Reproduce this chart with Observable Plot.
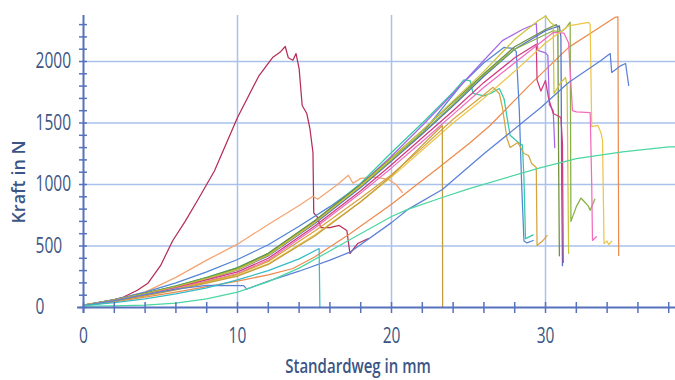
<!DOCTYPE html>
<html>
<head>
<meta charset="utf-8">
<script src="https://cdn.jsdelivr.net/npm/d3@7"></script>
<script src="https://cdn.jsdelivr.net/npm/@observablehq/plot@0.6"></script>
<style>
  html, body { margin: 0; padding: 0; background: #fff; }
  #wrap { position: relative; width: 675px; height: 380px; background: #fff; overflow: hidden; }
  #ylab { position: absolute; left: 18px; top: 182px; transform: translate(-50%, -50%) rotate(-90deg);
          font-family: 'Open Sans', sans-serif; font-weight: 600; font-size: 18px; color: #3b5584; white-space: nowrap; }
  #xlab { position: absolute; left: 358px; top: 356px; transform: translateX(-50%) scaleX(0.75);
          font-family: 'Open Sans', sans-serif; font-weight: 600; font-size: 20px; line-height: 20px; color: #3b5584; white-space: nowrap; }
</style>
</head>
<body>
<div id="wrap"></div>
<script>
// ---- axis ticks ----
const xTicksMinor = [0,2,4,6,8,10,12,14,16,18,20,22,24,26,28,30,32,34,36,38];
const xTickLabels = [0,10,20,30];
const yTicksMinor = [0,100,200,300,400,500,600,700,800,900,1000,1100,1200,1300,1400,1500,1600,1700,1800,1900,2000,2100,2200,2300];
const yTickLabels = [0,500,1000,1500,2000];

// ---- curves (Standardweg mm, Kraft N) ----
const crimsonX = [0,1,2,2.6,3.5,4.2,5,5.8,6.6,7.4,8.5,10,11.4,12.3,12.8,13.1,13.3,13.6,13.8,14.0,14.2,14.5,14.7,14.9,14.95,15.2,15.4,16.0,16.6,17.1,17.3,17.8,18.5];
const crimsonY = [15,40,65,85,140,200,340,545,700,870,1110,1545,1886,2035,2080,2122,2030,2010,2065,1943,1642,1577,1455,1260,770,732,650,650,667,626,439,520,561];

const peachX = [0,2,4,6,8,10,12,14,14.9,15.2,16.5,17.2,17.5,18,19,19.8,20.3,20.7];
const peachY = [20,60,125,245,385,515,675,830,905,880,1000,1075,1010,1050,1060,1040,1000,935];

const darkOrangeX = [0,2,4,6,8,10,12,13.6,15,17.3,20,23.2,25.1,26.4,28.9,31.5,33,34.5,34.7,34.75];
const darkOrangeY = [15,45,85,125,170,215,265,317,410,600,840,1150,1340,1480,1800,2115,2236,2358,2362,423];

const steelX = [0,2,4,6,8,10,12,14,16,18,20,22,24.6,26,27.3,27.9,28.1,28.3,28.45,28.6,28.8,29.2];
const steelY = [20,65,125,200,290,390,510,660,820,1000,1200,1420,1820,1990,2114,2106,2080,1600,1000,540,525,545];

const tealX = [0,2,4,6,8,10,12,15,18,20,22,24,24.7,25.1,25.3,26,26.5,27.0,27.3,27.7,28.2,28.5,28.6,28.7,29.2];
const tealY = [20,62,115,175,245,325,440,700,1010,1260,1500,1750,1850,1845,1740,1720,1745,1780,1700,1400,1345,1320,1050,560,590];

const purpleX = [0,2,4,6,8,10,12,15,18,20,22,24,26,27.2,28.5,29.4,29.5,30.0,30.15,30.25,30.5,30.6];
const purpleY = [20,62,115,172,240,318,435,695,1000,1230,1480,1740,2010,2170,2260,2309,2090,2070,2050,1650,1600,1300];

const darkOliveX = [0,2,4,6,8,10,12,15,18,20,22,24,26,28,30,30.7,30.8,30.85,30.9];
const darkOliveY = [20,62,116,174,244,322,440,705,1000,1215,1440,1670,1900,2120,2260,2300,2280,1200,420];

const darkBlueX = [0,2,4,6,8,10,12,15,18,20,22,24,26,28,30,30.9,31.0,31.05,31.1];
const darkBlueY = [18,58,110,165,230,305,420,680,975,1190,1410,1640,1880,2100,2250,2290,2200,1000,340];

const oliveGreenX = [0,2,4,6,8,10,12,15,18,20,22,24,25.8,28,30.5,31.0,31.3,31.6,31.65,32.0,32.3,32.6,32.8,32.9,33.2];
const oliveGreenY = [20,60,112,170,238,315,430,690,985,1200,1420,1650,1870,2100,2250,2240,2270,2320,700,820,890,850,820,790,880];

const oliveYellowX = [0,2,4,6,8,10,12,15,18,20,22,24,26,28,29.5,30.0,30.3,30.5,30.55,31.0,31.3,31.4,31.5];
const oliveYellowY = [20,60,110,165,232,308,425,690,990,1210,1440,1680,1920,2180,2330,2370,2320,2300,1740,1830,1870,1800,440];

const magentaX = [0,2,4,6,8,10,12,15,18,20,22,24,26,28,29.4,29.45,29.7,30.0,30.2,30.5,31.0,31.1,31.15];
const magentaY = [18,56,105,160,225,290,400,660,950,1160,1380,1600,1830,2030,2140,1850,1760,1845,1700,1577,1545,1333,366];

const pinkX = [0,2,4,6,8,10,12,15,18,20,22,24,26,28,30.5,31.2,31.5,31.75,32.0,32.9,33.0,33.05,33.3];
const pinkY = [18,55,102,155,215,275,385,645,930,1135,1350,1570,1790,1990,2236,2230,2150,1600,1590,1585,1000,545,575];

const yellowX = [0,2,4,6,8,10,12,15,18,20,22,24,25.8,28,30,31.5,32.8,32.9,33.0,33.4,33.6,33.7,33.8,34.0,34.1,34.3];
const yellowY = [18,54,100,150,205,260,355,590,860,1060,1280,1500,1680,1920,2150,2290,2318,2300,1470,1480,1420,1360,520,540,510,540];

const ochreX = [0,2,4,6,8,10,12,15,18,20,22,24,26,26.6,27.0,27.2,27.5,27.7,28.2,28.6,28.9,29.1,29.4,29.45,29.8,30.1];
const ochreY = [18,54,100,150,210,270,375,620,890,1080,1300,1530,1730,1790,1740,1626,1374,1301,1342,1252,1236,1171,1138,504,540,585];

const ochre2X = [0,2,4,6,8,10,12,15,18,20,22,23.3,23.32];
const ochre2Y = [18,52,95,143,198,255,350,580,860,1070,1320,1480,0];

const blueStepX = [0,2,4,6,8,10.4,10.6,12,14,16,17.3,20,21.1,23.3,26,29.7,31.5,33.6,34.2,34.3,34.9,35.2,35.4];
const blueStepY = [15,55,105,150,179,178,150,215,295,385,450,690,800,960,1250,1626,1830,2008,2065,1910,1967,1984,1805];

const tealCyanX = [0,2,4,6,8,10,12,14,15.3,15.35];
const tealCyanY = [15,40,70,110,160,225,300,395,480,0];

const mintX = [0,2,4,6,8,10,12,14,17,20,21.1,23.2,25,29.7,32,35,38,38.5];
const mintY = [12,14,20,35,70,125,210,320,530,740,800,890,965,1138,1210,1265,1305,1305];

const seriesIds = ["crimson","peach","darkOrange","steel","teal","purple","darkOlive","darkBlue","oliveGreen","oliveYellow","magenta","pink","yellow","ochre","ochre2","blueStep","tealCyan","mint"];
const seriesColors = ["#b52d55","#f4a471","#ee8a4e","#5285d6","#36c9a6","#a567e6","#6f8f3c","#4e6fc4","#86b043","#ccc43a","#cf3a7f","#f26bbd","#eec54a","#d6a43e","#c39d3c","#5b80d6","#35bcc6","#4bd6a2"];
const seriesXs = [crimsonX,peachX,darkOrangeX,steelX,tealX,purpleX,darkOliveX,darkBlueX,oliveGreenX,oliveYellowX,magentaX,pinkX,yellowX,ochreX,ochre2X,blueStepX,tealCyanX,mintX];
const seriesYs = [crimsonY,peachY,darkOrangeY,steelY,tealY,purpleY,darkOliveY,darkBlueY,oliveGreenY,oliveYellowY,magentaY,pinkY,yellowY,ochreY,ochre2Y,blueStepY,tealCyanY,mintY];

const rows = [];
seriesIds.forEach((id, k) => {
  seriesXs[k].forEach((x, i) => rows.push({id, x, y: seriesYs[k][i]}));
});

const axisColor = "#5672bd";
const textColor = "#3b5584";
const gridColor = "#a9c2ec";

const chart = Plot.plot({
  width: 675,
  height: 350,
  marginLeft: 83,
  marginRight: 0,
  marginTop: 15,
  marginBottom: 43,
  x: {domain: [0, 38.44]},
  y: {domain: [0, 2374]},
  color: {domain: seriesIds, range: seriesColors},
  style: {fontFamily: "'Open Sans', sans-serif", background: "white", overflow: "visible"},
  marks: [
    Plot.gridX(xTickLabels.filter(d => d > 0), {stroke: gridColor, strokeOpacity: 1, strokeWidth: 1.5}),
    Plot.gridY(yTickLabels.filter(d => d > 0), {stroke: gridColor, strokeOpacity: 1, strokeWidth: 1.5}),
    Plot.line(rows, {x: "x", y: "y", z: "id", stroke: "id", strokeWidth: 1.25, curve: "linear"}),
    Plot.ruleY([0], {stroke: axisColor, strokeWidth: 2, insetLeft: -6}),
    Plot.ruleX([0], {stroke: axisColor, strokeWidth: 2, insetBottom: -6}),
    Plot.axisX(xTicksMinor, {tickSize: 6, tickFormat: () => "", label: null, color: axisColor, strokeWidth: 1.5}),
    Plot.axisX(xTicksMinor, {tickSize: 5, dy: -5, tickFormat: () => "", label: null, color: axisColor, strokeWidth: 1.5}),
    Plot.axisY(yTicksMinor, {tickSize: 4, tickFormat: () => "", label: null, color: axisColor, strokeWidth: 1.5}),
    Plot.axisY(yTicksMinor, {tickSize: 4, dx: 4, tickFormat: () => "", label: null, color: axisColor, strokeWidth: 1.5}),
    Plot.axisX(xTickLabels, {tickSize: 0, tickPadding: 21, fontSize: 21, label: null, color: textColor, tickFormat: d => String(d)}),
    Plot.axisY(yTickLabels, {tickSize: 0, tickPadding: 48, textAnchor: "start", fontSize: 21, label: null, color: textColor, tickFormat: d => String(d)})
  ]
});

const wrap = document.getElementById("wrap");
wrap.appendChild(chart);

// horizontally condense tick label glyphs like the reference typeface
chart.querySelectorAll('g[aria-label="x-axis tick label"] text, g[aria-label="y-axis tick label"] text').forEach(t => {
  if (!t.textContent) return;
  const tr = t.getAttribute("transform") || "";
  const x = +t.getAttribute("x") || 0;
  const y = +t.getAttribute("y") || 0;
  t.setAttribute("transform", `${tr} translate(${x},${y}) scale(0.74,1) translate(${-x},${-y})`);
});

const ylab = document.createElement("div");
ylab.id = "ylab";
ylab.textContent = "Kraft in N";
wrap.appendChild(ylab);

const xlab = document.createElement("div");
xlab.id = "xlab";
xlab.textContent = "Standardweg in mm";
wrap.appendChild(xlab);
</script>
</body>
</html>
